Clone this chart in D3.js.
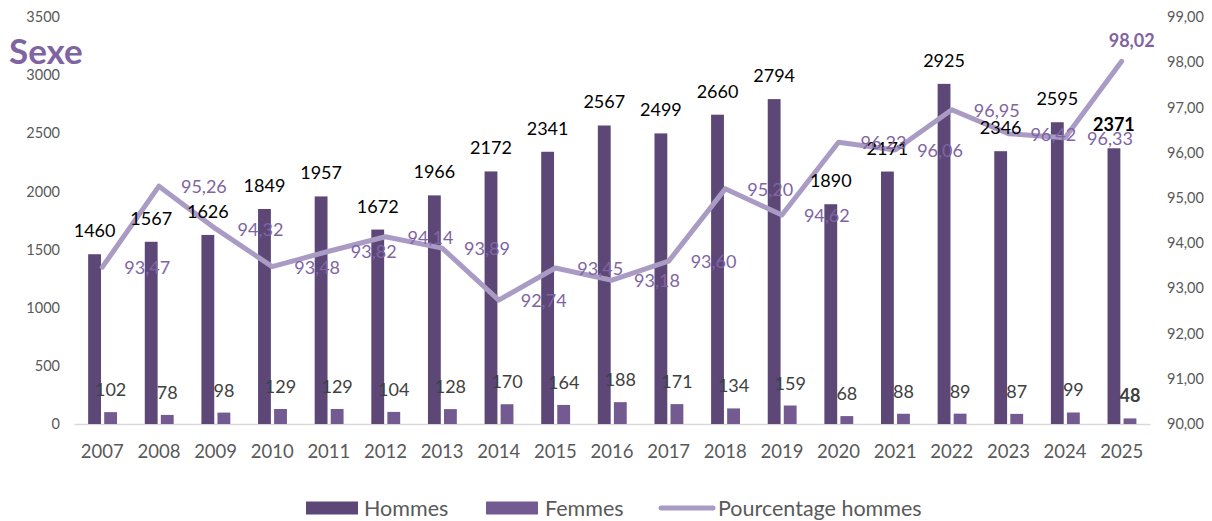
<!DOCTYPE html>
<html>
<head>
<meta charset="utf-8">
<script src="https://cdn.jsdelivr.net/npm/d3@7"></script>
<style>
  html, body { margin: 0; padding: 0; background: #fff; }
  svg { display: block; }
</style>
</head>
<body>
<svg id="chart" width="1212" height="521"></svg>
<script>
const years = ["2007","2008","2009","2010","2011","2012","2013","2014","2015","2016","2017","2018","2019","2020","2021","2022","2023","2024","2025"];
const hommes = [1460,1567,1626,1849,1957,1672,1966,2172,2341,2567,2499,2660,2794,1890,2171,2925,2346,2595,2371];
const femmes = [102,78,98,129,129,104,128,170,164,188,171,134,159,68,88,89,87,99,48];
const pourcentage = [93.47,95.26,94.32,93.48,93.82,94.14,93.89,92.74,93.45,93.18,93.60,95.20,94.62,96.23,96.06,96.95,96.42,96.33,98.02];
const leftTicks = [0,500,1000,1500,2000,2500,3000,3500];
const rightTicks = [90,91,92,93,94,95,96,97,98,99];
const title = "Sexe";
const seriesNames = ["Hommes","Femmes","Pourcentage hommes"];

const C_H = "#5D4777", C_F = "#735A91", C_L = "#A99BC4", C_LBL = "#8064A2";
const svg = d3.select("#chart");
const plotTop = 17, plotBottom = 424, plotLeft = 74, plotRight = 1150;

const x = d3.scaleBand().domain(years).range([plotLeft, plotRight]).padding(0);
const x1 = d3.scaleBand().domain(["H","F"])
  .range([x.bandwidth()*0.25, x.bandwidth()*0.76]).paddingInner(0.2);
const y = d3.scaleLinear().domain([0,3500]).range([plotBottom, plotTop]);
const y2 = d3.scaleLinear().domain([90,99]).range([plotBottom, plotTop]);
const fmt2 = d => d.toFixed(2).replace(".", ",");

// left axis
const la = svg.append("g").attr("transform", `translate(${plotLeft - 14},0)`)
  .call(d3.axisLeft(y).tickValues(leftTicks).tickSize(0).tickPadding(0).tickFormat(d3.format("d")));
la.select(".domain").remove();
la.selectAll("text").attr("font-family","Lato").attr("font-size",14.5).attr("fill","#595959");

// right axis
const ra = svg.append("g").attr("transform", `translate(${plotRight + 17},0)`)
  .call(d3.axisRight(y2).tickValues(rightTicks).tickSize(0).tickPadding(0).tickFormat(fmt2));
ra.select(".domain").remove();
ra.selectAll("text").attr("font-family","Lato").attr("font-size",14.5).attr("fill","#595959");

// x axis
const xa = svg.append("g").attr("transform", `translate(0,${plotBottom})`)
  .call(d3.axisBottom(x).tickSize(0).tickPadding(21));
xa.select(".domain").attr("stroke","#D9D9D9").attr("stroke-width",1.5);
xa.selectAll("text").attr("font-family","Lato").attr("font-size",18.5).attr("fill","#595959");

// bars
svg.append("g").selectAll("rect").data(hommes).join("rect")
  .attr("x",(d,i)=>x(years[i])+x1("H")).attr("width",x1.bandwidth())
  .attr("y",d=>y(d)).attr("height",d=>y(0)-y(d)).attr("fill",C_H);
svg.append("g").selectAll("rect").data(femmes).join("rect")
  .attr("x",(d,i)=>x(years[i])+x1("F")).attr("width",x1.bandwidth())
  .attr("y",d=>y(d)).attr("height",d=>y(0)-y(d)).attr("fill",C_F);

// line
const cx = i => x(years[i]) + x.bandwidth()/2;
const line = d3.line().x((d,i)=>cx(i)).y(d=>y2(d));
svg.append("path").datum(pourcentage).attr("d",line).attr("fill","none")
  .attr("stroke",C_L).attr("stroke-width",5).attr("stroke-linejoin","round").attr("stroke-linecap","round");

const last = years.length - 1;
// bar labels
svg.append("g").selectAll("text").data(hommes).join("text")
  .attr("x",(d,i)=>x(years[i])+x1("H")+x1.bandwidth()/2).attr("y",d=>y(d)-24)
  .attr("text-anchor","middle").attr("dominant-baseline","central")
  .attr("font-family","Lato").attr("font-size",18).attr("fill","#000")
  .attr("font-weight",(d,i)=>i===last?"bold":"normal").text(d=>d);
svg.append("g").selectAll("text").data(femmes).join("text")
  .attr("x",(d,i)=>x(years[i])+x1("F")+x1.bandwidth()/2).attr("y",d=>y(d)-23)
  .attr("text-anchor","middle").attr("dominant-baseline","central")
  .attr("font-family","Lato").attr("font-size",18).attr("fill","#404040")
  .attr("font-weight",(d,i)=>i===last?"bold":"normal").text(d=>d);

// percentage labels
svg.append("g").selectAll("text").data(pourcentage).join("text")
  .attr("x",(d,i)=> i===last ? cx(i)+10 : cx(i)+22)
  .attr("y",(d,i)=> i===last ? y2(d)-21 : y2(d))
  .attr("text-anchor",(d,i)=> i===last ? "middle" : "start")
  .attr("dominant-baseline","central")
  .attr("font-family","Lato").attr("font-size",18).attr("fill",C_LBL)
  .attr("font-weight",(d,i)=>i===last?"bold":"normal").text(d=>fmt2(d));

// title
svg.append("text").attr("x",9).attr("y",64).text(title)
  .attr("font-family","Lato").attr("font-weight","bold").attr("font-size",35).attr("fill",C_LBL);

// legend
const lg = svg.append("g");
const ly = 508;
lg.append("rect").attr("x",306).attr("y",ly-6.5).attr("width",52).attr("height",13).attr("fill",C_H);
lg.append("text").attr("x",364).attr("y",ly).text(seriesNames[0]);
lg.append("rect").attr("x",486).attr("y",ly-6.5).attr("width",52).attr("height",13).attr("fill",C_F);
lg.append("text").attr("x",545).attr("y",ly).text(seriesNames[1]);
lg.append("line").attr("x1",661).attr("x2",713).attr("y1",ly).attr("y2",ly)
  .attr("stroke",C_L).attr("stroke-width",5).attr("stroke-linecap","round");
lg.append("text").attr("x",718).attr("y",ly).text(seriesNames[2]);
lg.selectAll("text").attr("dominant-baseline","central").attr("font-family","Lato")
  .attr("font-size",21.5).attr("fill","#595959");
</script>
</body>
</html>
